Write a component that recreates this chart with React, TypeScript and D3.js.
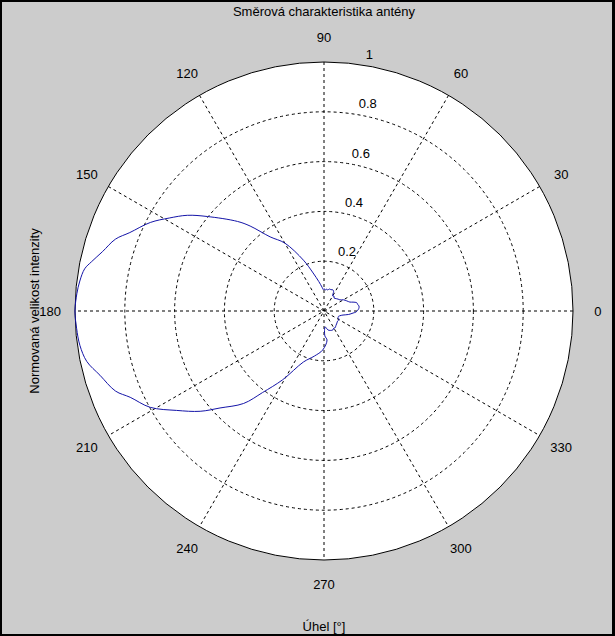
import React from 'react';
import * as d3 from 'd3';

// Measured pattern (traversal order), angle in degrees (ccw from 0°), normalised intensity
const angleDeg = [
  0, 4, 8, 11, 14, 17, 19, 24, 30, 35, 40, 45, 52, 56, 60, 64, 67, 72, 76, 80, 84, 87, 90, 92, 95,
  100, 106, 112, 120, 126, 131, 134, 141, 145, 149, 153, 158, 161, 165, 168, 170, 173, 176, 180,
  184, 188, 192, 196, 201, 204, 209, 214, 219, 223, 229, 233, 239, 248, 258, 268, 276, 272, 274,
  278, 282, 288, 295, 300, 303, 310, 317, 323, 330, 337, 343, 348, 352, 356, 358, 360,
];
const intensity = [
  0.133, 0.14, 0.142, 0.138, 0.136, 0.122, 0.11, 0.1, 0.09, 0.078, 0.074, 0.07, 0.066, 0.072, 0.07, 0.088, 0.092, 0.09, 0.091, 0.086, 0.088, 0.084, 0.09, 0.086, 0.097,
  0.12, 0.159, 0.22, 0.315, 0.368, 0.452, 0.5, 0.603, 0.67, 0.725, 0.783, 0.841, 0.886, 0.921, 0.954, 0.976, 0.988, 0.995, 1.0,
  0.996, 0.99, 0.974, 0.936, 0.897, 0.852, 0.798, 0.714, 0.64, 0.571, 0.492, 0.41, 0.322, 0.221, 0.185, 0.157, 0.117, 0.1, 0.064,
  0.07, 0.078, 0.082, 0.084, 0.079, 0.081, 0.075, 0.071, 0.068, 0.07, 0.061, 0.066, 0.078, 0.1, 0.117, 0.128, 0.133,
];

const ringValues = [0.2, 0.4, 0.6, 0.8, 1];
const ringLabels = ['0.2', '0.4', '0.6', '0.8', '1'];
const spokeAngles = [0, 30, 60, 90, 120, 150];
const angleTicks = [0, 30, 60, 90, 120, 150, 180, 210, 240, 270, 300, 330];
const angleTickLabels = ['0', '30', '60', '90', '120', '150', '180', '210', '240', '270', '300', '330'];
const titleText = 'Směrová charakteristika antény';
const xLabelText = 'Úhel [°]';
const yLabelText = 'Normovaná velikost intenzity';

export default function App() {
  const W = 615;
  const H = 636;
  const cx = 324;
  const cy = 311;
  const R = 249;
  const font = "'Liberation Sans', Arial, sans-serif";

  const rScale = d3.scaleLinear().domain([0, 1]).range([0, R]);
  const aScale = d3.scaleLinear().domain([0, 360]).range([0, 2 * Math.PI]);

  const pts: [number, number][] = angleDeg.map((a, i) => [a, intensity[i]]);
  const radial = d3
    .lineRadial<[number, number]>()
    .angle((d) => Math.PI / 2 - aScale(d[0]))
    .radius((d) => rScale(d[1]))
    .curve(d3.curveCatmullRom.alpha(0.5));

  const px = (a: number, v: number) => cx + rScale(v) * Math.cos(aScale(a));
  const py = (a: number, v: number) => cy - rScale(v) * Math.sin(aScale(a));

  const c82 = Math.cos((82 * Math.PI) / 180);
  const s82 = Math.sin((82 * Math.PI) / 180);

  return (
    <svg
      width={W}
      height={H}
      style={{ position: 'absolute', left: 0, top: 0, display: 'block' }}
      fontFamily={font}
      fontSize={13}
    >
      <rect x={0} y={0} width={W} height={H} fill="#000" />
      <rect x={2} y={2} width={610} height={632} fill="#cccccc" />
      <circle cx={cx} cy={cy} r={R} fill="#fff" />
      {ringValues.slice(0, -1).map((v) => (
        <circle key={v} cx={cx} cy={cy} r={rScale(v)} fill="none" stroke="#000" strokeWidth={1} strokeDasharray="3,3" />
      ))}
      {spokeAngles.map((a) => (
        <line
          key={a}
          x1={px(a, 1)}
          y1={py(a, 1)}
          x2={px(a + 180, 1)}
          y2={py(a + 180, 1)}
          stroke="#000"
          strokeWidth={1}
          strokeDasharray="3,3"
        />
      ))}
      <circle cx={cx} cy={cy} r={R} fill="none" stroke="#000" strokeWidth={1} />
      <path d={radial(pts) || ''} transform={`translate(${cx},${cy})`} fill="none" stroke="#1414a8" strokeWidth={1} />
      {ringValues.map((v, i) => (
        <text
          key={v}
          x={cx + rScale(v + 0.01) * c82 + 6.7}
          y={cy - rScale(v + 0.01) * s82 - 3}
          textAnchor="start"
          fill="#000"
        >
          {ringLabels[i]}
        </text>
      ))}
      {angleTicks.map((a, i) => (
        <text
          key={a}
          x={px(a, 1.1)}
          y={py(a, 1.1)}
          textAnchor="middle"
          dominantBaseline="central"
          fill="#000"
        >
          {angleTickLabels[i]}
        </text>
      ))}
      <text x={cx} y={16} textAnchor="middle" fill="#000">
        {titleText}
      </text>
      <text x={cx} y={631} textAnchor="middle" fill="#000">
        {xLabelText}
      </text>
      <text transform={`translate(39,${cy}) rotate(-90)`} textAnchor="middle" fill="#000">
        {yLabelText}
      </text>
    </svg>
  );
}
